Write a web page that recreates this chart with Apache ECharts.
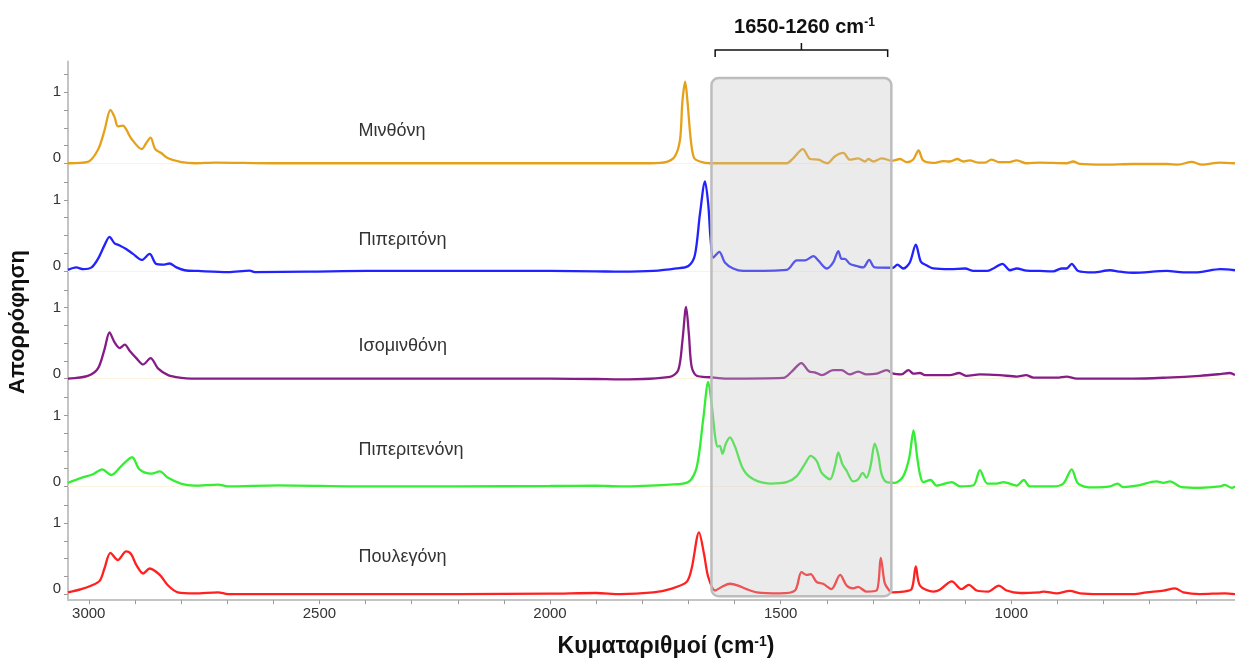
<!DOCTYPE html>
<html><head><meta charset="utf-8">
<script src="https://cdn.jsdelivr.net/npm/echarts@6/dist/echarts.min.js"></script>
<style>html,body{margin:0;padding:0;background:#fff}#c{width:1235px;height:660px}</style>
</head><body><div id="c"></div>
<script>
// ---------- DATA (wavenumber cm-1, absorbance) ----------
const seriesNames = ['Μινθόνη', 'Πιπεριτόνη', 'Ισομινθόνη', 'Πιπεριτενόνη', 'Πουλεγόνη'];
const seriesColors = ['#E6A11A', '#2222FF', '#861C86', '#33EE33', '#FF2020'];

const menthone = [[3045,0],[3002,0.02],[2980,0.19],[2966,0.46],[2953,0.75],[2944,0.65],[2937,0.52],[2926,0.53],[2919,0.48],[2908,0.35],[2885,0.20],[2875,0.29],[2866,0.36],[2856,0.20],[2843,0.145],[2828,0.07],[2799,0.015],[2770,0],[2727,0.01],[2600,0],[2400,0],[2200,0],[2000,0],[1900,0],[1848,0],[1783,0],[1747,0.02],[1729,0.10],[1718,0.34],[1713,0.87],[1707,1.15],[1702,0.87],[1695,0.34],[1688,0.08],[1675,0.025],[1653,0],[1487,0],[1473,0.07],[1452,0.20],[1436,0.06],[1418,0.05],[1399,0],[1382,0.10],[1364,0.145],[1350,0.05],[1332,0.07],[1317,0.025],[1310,0.06],[1299,0.025],[1281,0.07],[1259,0.035],[1241,0.06],[1227,0.015],[1213,0.05],[1201,0.18],[1191,0.04],[1169,0.005],[1147,0.03],[1133,0.025],[1117,0.06],[1104,0.025],[1090,0.04],[1072,0.01],[1057,0.01],[1043,0.05],[1025,0.015],[1007,0.015],[988,0.04],[967,0],[938,0.01],[880,0],[866,0.025],[851,-0.01],[801,-0.02],[736,-0.01],[663,-0.01],[638,-0.02],[609,0.02],[587,-0.02],[548,0.01],[515,0]];

const piperitone = [[3045,0.015],[3027,0.05],[3012,0.025],[2994,0.05],[2980,0.17],[2966,0.36],[2955,0.48],[2944,0.39],[2933,0.36],[2919,0.31],[2904,0.24],[2885,0.155],[2868,0.24],[2854,0.10],[2839,0.09],[2825,0.105],[2810,0.05],[2792,0.01],[2763,0],[2698,-0.015],[2651,0.005],[2640,-0.015],[2525,-0.01],[2395,0],[2200,0],[2000,0],[1900,-0.005],[1848,-0.01],[1776,0],[1726,0.035],[1700,0.07],[1686,0.22],[1675,0.80],[1664,1.26],[1657,0.94],[1652,0.46],[1646,0.19],[1633,0.27],[1621,0.12],[1603,0.035],[1581,0],[1487,0.015],[1465,0.15],[1447,0.15],[1429,0.21],[1418,0.145],[1400,0.035],[1386,0.12],[1375,0.28],[1368,0.17],[1361,0.17],[1350,0.10],[1335,0.07],[1321,0.05],[1308,0.155],[1296,0.05],[1256,0.045],[1247,0.09],[1234,0.035],[1220,0.12],[1207,0.37],[1196,0.13],[1184,0.08],[1169,0.035],[1133,0.025],[1100,0.035],[1082,0],[1053,0],[1039,0.035],[1019,0.10],[1003,0.01],[988,0.035],[967,0.005],[938,0],[909,-0.005],[891,0.035],[880,0.035],[869,0.10],[855,0],[822,-0.02],[786,0.01],[764,-0.01],[735,-0.025],[663,0],[627,-0.02],[591,-0.015],[547,0.025],[515,0.01]];

const isomenthone = [[3045,0],[3002,0.04],[2980,0.145],[2966,0.41],[2955,0.65],[2944,0.51],[2933,0.43],[2922,0.48],[2911,0.39],[2897,0.29],[2882,0.20],[2866,0.29],[2850,0.145],[2828,0.05],[2799,0.01],[2778,0],[2600,0],[2400,0],[2200,0],[2000,0],[1900,-0.005],[1848,-0.01],[1740,0.025],[1722,0.12],[1713,0.53],[1705,1.01],[1699,0.63],[1693,0.17],[1682,0.04],[1653,0.02],[1617,0],[1494,0.01],[1476,0.10],[1455,0.22],[1438,0.10],[1426,0.09],[1411,0.05],[1386,0.12],[1368,0.12],[1350,0.06],[1332,0.10],[1314,0.06],[1292,0.07],[1270,0.12],[1256,0.07],[1238,0.06],[1223,0.12],[1212,0.07],[1198,0.08],[1187,0.05],[1133,0.05],[1113,0.08],[1097,0.04],[1068,0.06],[1025,0.05],[988,0.03],[968,0.05],[952,0.015],[901,0.015],[880,0.03],[858,0],[808,0],[735,0],[663,0.015],[591,0.04],[547,0.065],[526,0.08],[515,0.05]];

const piperitenone = [[3045,0.05],[3016,0.12],[2991,0.17],[2971,0.24],[2951,0.16],[2929,0.29],[2906,0.41],[2890,0.24],[2864,0.18],[2846,0.21],[2828,0.12],[2799,0.035],[2770,0.01],[2720,0.025],[2698,0],[2590,0.015],[2400,0],[2200,0],[2000,0.005],[1900,0.01],[1848,0],[1740,0.025],[1700,0.06],[1682,0.27],[1668,0.94],[1657,1.47],[1650,1.18],[1642,0.70],[1637,0.56],[1632,0.57],[1626,0.46],[1619,0.60],[1610,0.69],[1599,0.56],[1581,0.24],[1559,0.10],[1523,0.04],[1487,0.06],[1465,0.145],[1447,0.32],[1435,0.43],[1422,0.36],[1411,0.19],[1393,0.10],[1382,0.29],[1375,0.48],[1366,0.31],[1357,0.22],[1343,0.07],[1332,0.10],[1322,0.19],[1314,0.12],[1305,0.29],[1296,0.60],[1288,0.43],[1281,0.17],[1270,0.06],[1252,0.05],[1234,0.145],[1221,0.41],[1212,0.79],[1204,0.41],[1198,0.17],[1191,0.06],[1175,0.09],[1162,0.01],[1129,0.06],[1111,0],[1082,0.015],[1068,0.23],[1052,0.04],[1032,0.04],[1017,0.06],[988,0.01],[973,0.09],[960,0],[909,0],[887,0.04],[869,0.24],[855,0.04],[822,-0.015],[786,0],[770,0.04],[757,-0.01],[728,0.01],[685,0.07],[670,0.05],[656,0.07],[631,-0.01],[591,-0.02],[547,0],[537,0.02],[522,-0.02],[515,0]];

const pulegone = [[3045,0.025],[3016,0.07],[2994,0.12],[2976,0.19],[2966,0.36],[2953,0.58],[2937,0.48],[2919,0.60],[2908,0.56],[2897,0.41],[2882,0.29],[2868,0.36],[2846,0.27],[2828,0.12],[2807,0.025],[2770,0.01],[2720,0.025],[2698,0],[2400,0],[2200,0],[2000,0.005],[1900,0.015],[1848,0],[1776,0.025],[1740,0.07],[1704,0.17],[1693,0.36],[1677,0.87],[1666,0.56],[1657,0.24],[1642,0.05],[1628,0.10],[1610,0.145],[1592,0.12],[1574,0.07],[1552,0.025],[1502,0.01],[1469,0.05],[1455,0.31],[1444,0.27],[1435,0.28],[1422,0.17],[1408,0.145],[1390,0.07],[1371,0.27],[1357,0.12],[1343,0.08],[1332,0.10],[1314,0.035],[1292,0.05],[1283,0.51],[1275,0.17],[1270,0.10],[1259,0.025],[1234,0.035],[1216,0.07],[1207,0.39],[1198,0.12],[1169,0.035],[1155,0.06],[1129,0.18],[1108,0.07],[1092,0.13],[1075,0.05],[1050,0.035],[1027,0.12],[1010,0.05],[981,0.015],[938,0.025],[930,0.035],[902,0.01],[873,0.045],[851,0.01],[808,0],[735,0],[707,0.025],[670,0.05],[645,0.08],[627,0.025],[591,0],[537,0.01],[515,0]];

const spectra = [menthone, piperitone, isomenthone, piperitenone, pulegone];

const xTickValues = [600,700,800,900,1000,1100,1200,1300,1400,1500,1600,1700,1800,1900,2000,2100,2200,2300,2400,2500,2600,2700,2800,2900,3000];
const xLabelValues = [1000,1500,2000,2500,3000];
const yTickValues = [0,0.25,0.5,0.75,1,1.25];
const yLabelValues = [0,1];
const regionRange = [1650, 1260];
const regionLabel = '1650-1260 cm';
const xTitle = 'Κυματαριθμοί (cm';
const yTitle = 'Απορρόφηση';

// ---------- CHART ----------
const FONT = "'Liberation Sans', Arial, sans-serif";
const panelTop = 61.6, panelH = 107.7;
const grids = [], xAxes = [], yAxes = [], series = [];
for (let i = 0; i < 5; i++) {
  const last = i === 4;
  grids.push({left: 68, right: 0, top: panelTop + panelH * i, height: panelH});
  xAxes.push({
    type: 'value', gridIndex: i, min: 515, max: 3045, inverse: true,
    axisLine: {show: true, onZero: !last, lineStyle: {color: last ? '#c4c4c4' : '#fcf2e0', width: last ? 2 : 1}},
    axisTick: {show: last, customValues: xTickValues, length: 4, lineStyle: {color: '#9a9a9a'}},
    axisLabel: {show: last, customValues: xLabelValues, formatter: v => String(v), color: '#333', fontSize: 15, fontFamily: FONT, margin: 6},
    splitLine: {show: false}
  });
  yAxes.push({
    type: 'value', gridIndex: i, min: -0.085, max: 1.432,
    axisLine: {show: true, lineStyle: {color: '#c4c4c4', width: 2}},
    axisTick: {show: true, customValues: yTickValues, length: 4, lineStyle: {color: '#9a9a9a'}},
    axisLabel: {
      customValues: yLabelValues, color: '#333', fontSize: 15, fontFamily: FONT, margin: 7,
      formatter: v => v === 0 ? '{z|0}' : '1',
      rich: {z: {padding: [0, 0, 10, 0], fontSize: 15, color: '#333', fontFamily: FONT}}
    },
    splitLine: {show: false}
  });
  series.push({
    name: seriesNames[i], type: 'line', xAxisIndex: i, yAxisIndex: i,
    data: spectra[i], showSymbol: false, smooth: 0.3, clip: false,
    lineStyle: {width: 2.3, color: seriesColors[i]}, itemStyle: {color: seriesColors[i]}
  });
}

const chart = echarts.init(document.getElementById('c'), null, {renderer: 'canvas'});
chart.setOption({animation: false, backgroundColor: '#fff', grid: grids, xAxis: xAxes, yAxis: yAxes, series: series});

const px = (g, x, y) => chart.convertToPixel({gridIndex: g}, [x, y]);
const graphics = [];
// region box
const bTL = px(0, regionRange[0], 1.2);
const bBR = px(4, regionRange[1], -0.03);
graphics.push({type: 'rect', z: 100, shape: {x: bTL[0], y: bTL[1], width: bBR[0] - bTL[0], height: bBR[1] - bTL[1], r: 7},
  style: {fill: 'rgba(195,195,195,0.33)', stroke: '#bdbdbd', lineWidth: 2.5}});
// bracket
const l = px(0, regionRange[0] - 8, 0)[0], r = px(0, regionRange[1] + 8, 0)[0];
const mid = (l + r) / 2;
graphics.push({type: 'polyline', z: 100, shape: {points: [[l, 57], [l, 50], [r, 50], [r, 57]]}, style: {stroke: '#111', lineWidth: 1.5, fill: null}});
graphics.push({type: 'line', z: 100, shape: {x1: mid, y1: 50, x2: mid, y2: 43}, style: {stroke: '#111', lineWidth: 1.5}});
graphics.push({type: 'text', z: 100, x: mid + 3, y: 27, style: {
  text: '{a|' + regionLabel + '}{s|-1}', textAlign: 'center', textVerticalAlign: 'middle',
  rich: {a: {fontSize: 20, fontWeight: 'bold', fontFamily: FONT, fill: '#111'},
         s: {fontSize: 12, fontWeight: 'bold', fontFamily: FONT, fill: '#111', verticalAlign: 'top'}}}});
// series name labels
const nameY = [0.45, 0.44, 0.46, 0.51, 0.52];
for (let i = 0; i < 5; i++) {
  const p = px(i, 2415, nameY[i]);
  graphics.push({type: 'text', z: 100, x: p[0], y: p[1], style: {text: seriesNames[i], fontSize: 18, fontFamily: FONT, fill: '#333', textAlign: 'left', textVerticalAlign: 'middle'}});
}
// axis titles
graphics.push({type: 'text', z: 100, x: 666, y: 647, style: {
  text: '{a|' + xTitle + '}{s|-1}{a|)}', textAlign: 'center', textVerticalAlign: 'middle',
  rich: {a: {fontSize: 23, fontWeight: 'bold', fontFamily: FONT, fill: '#111'},
         s: {fontSize: 14, fontWeight: 'bold', fontFamily: FONT, fill: '#111', verticalAlign: 'top'}}}});
graphics.push({type: 'text', z: 100, x: 18, y: 322, rotation: Math.PI / 2, style: {
  text: yTitle, fontSize: 22, fontWeight: 'bold', fontFamily: FONT, fill: '#111', textAlign: 'center', textVerticalAlign: 'middle'}});
chart.setOption({graphic: graphics});
</script></body></html>
